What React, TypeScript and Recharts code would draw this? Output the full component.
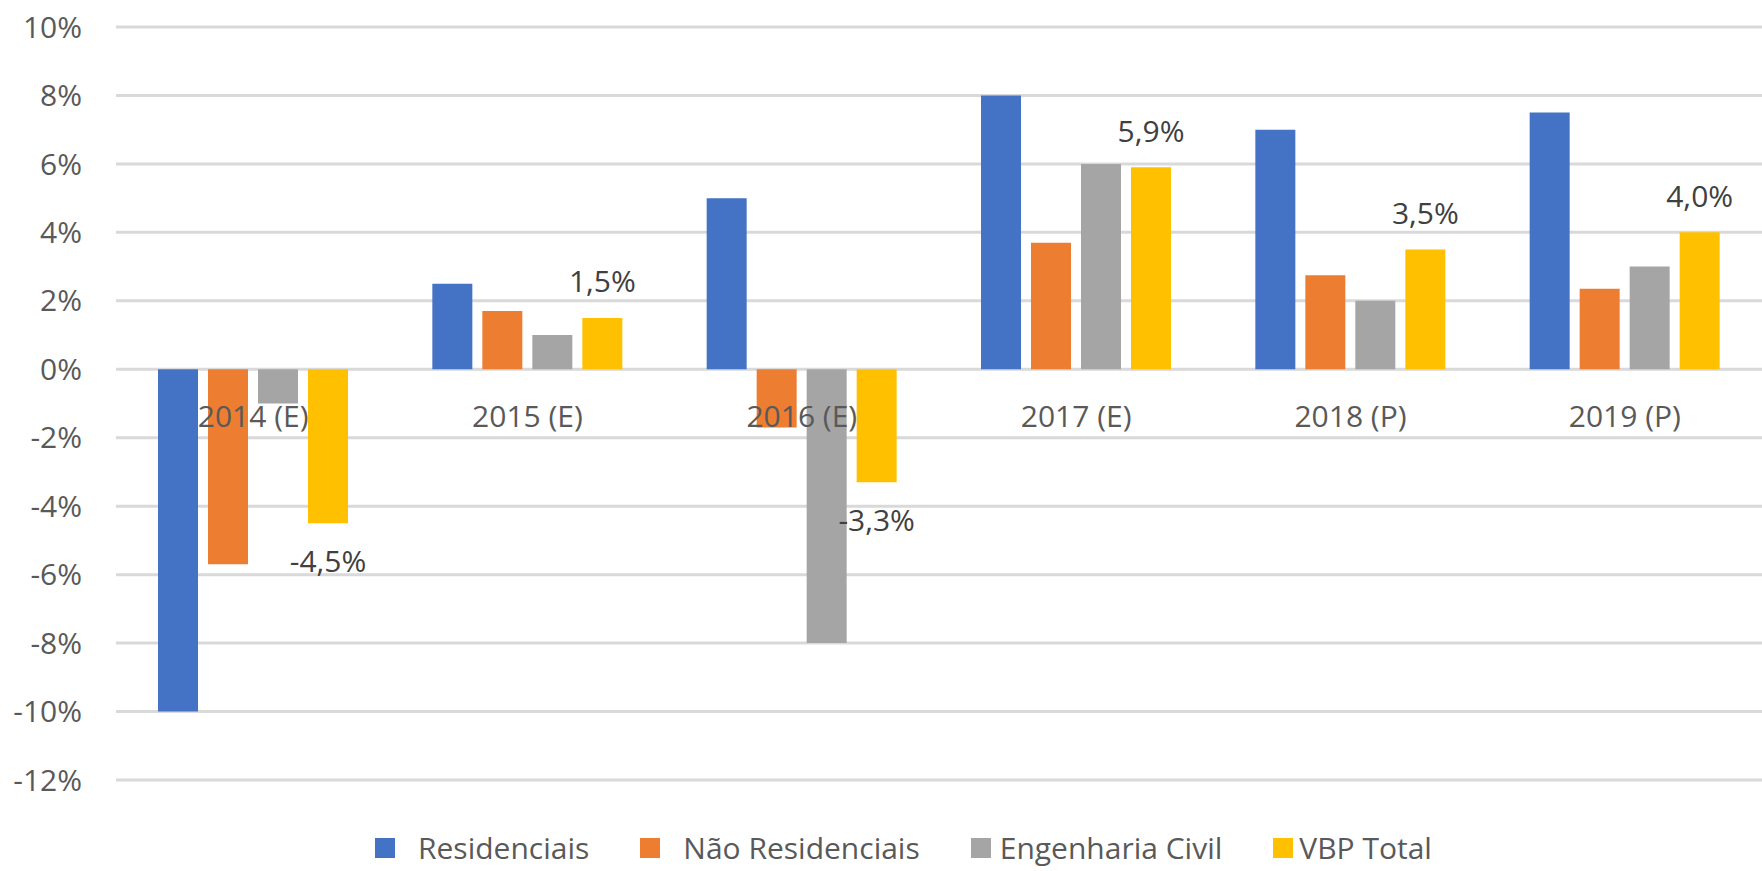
import { BarChart, Bar, XAxis, YAxis, CartesianGrid, LabelList } from 'recharts';

const CATEGORIES = ['2014 (E)', '2015 (E)', '2016 (E)', '2017 (E)', '2018 (P)', '2019 (P)'];
const RESIDENCIAIS = [-10, 2.5, 5, 8, 7, 7.5];
const NAO_RESIDENCIAIS = [-5.7, 1.7, -1.7, 3.7, 2.75, 2.35];
const ENGENHARIA_CIVIL = [-1, 1, -8, 6, 2, 3];
const VBP_TOTAL = [-4.5, 1.5, -3.3, 5.9, 3.5, 4.0];
const Y_TICKS = [-12, -10, -8, -6, -4, -2, 0, 2, 4, 6, 8, 10];

const SERIES = [
  { key: 'res', name: 'Residenciais', color: '#4472C4', gap: 23 },
  { key: 'nres', name: 'Não Residenciais', color: '#ED7D31', gap: 23 },
  { key: 'eng', name: 'Engenharia Civil', color: '#A5A5A5', gap: 9 },
  { key: 'vbp', name: 'VBP Total', color: '#FFC000', gap: 6 },
];

const W = 1762;
const H = 871;
const TOP = 27;
const BOTTOM = 91;
const Y_MIN = -12;
const Y_MAX = 10;
const PLOT_H = H - TOP - BOTTOM;
const ZERO_Y = TOP + (PLOT_H * Y_MAX) / (Y_MAX - Y_MIN);

const FONT = '"Open Sans", sans-serif';
const TEXT = '#595959';
const GRID = '#D9D9D9';

const rows = CATEGORIES.map((cat, i) => ({
  cat,
  res: RESIDENCIAIS[i],
  nres: NAO_RESIDENCIAIS[i],
  eng: ENGENHARIA_CIVIL[i],
  vbp: VBP_TOTAL[i],
}));

const pct = (v: number) => `${v.toFixed(1).replace('.', ',')}%`;

function CatTick({ x, payload }: any) {
  // category labels sit just under the zero line, not at the bottom
  return (
    <text x={x} y={ZERO_Y + 58} textAnchor="middle" fill={TEXT} fontSize={30} fontFamily={FONT}>
      {payload.value}
    </text>
  );
}

function VbpLabel({ x, y, width, height, value }: any) {
  const top = Math.min(y, y + height);
  const bottom = Math.max(y, y + height);
  const cy = value >= 0 ? top - 37 : bottom + 37;
  return (
    <text
      x={x + width / 2}
      y={cy}
      textAnchor="middle"
      dominantBaseline="central"
      fill="#404040"
      fontSize={30}
      fontFamily={FONT}
    >
      {pct(value)}
    </text>
  );
}

export default function App() {
  return (
    <div style={{ position: 'absolute', left: 0, top: 0, width: W, height: H, background: '#fff', overflow: 'hidden' }}>
      <BarChart
        width={W}
        height={H}
        data={rows}
        margin={{ top: TOP, right: 0, bottom: BOTTOM - 1, left: 0 }}
        barSize={40}
        barGap={10}
      >
        <CartesianGrid vertical={false} stroke={GRID} strokeWidth={3} />
        <YAxis
          domain={[Y_MIN, Y_MAX]}
          ticks={Y_TICKS}
          interval={0}
          width={116}
          axisLine={false}
          tickLine={false}
          tickMargin={28}
          tickFormatter={(v: number) => `${v}%`}
          tick={{ fill: TEXT, fontSize: 30, fontFamily: FONT }}
        />
        {SERIES.map((s) => (
          <Bar key={s.key} dataKey={s.key} name={s.name} fill={s.color} isAnimationActive={false}>
            {s.key === 'vbp' && <LabelList dataKey="vbp" content={<VbpLabel />} />}
          </Bar>
        ))}
        <XAxis
          dataKey="cat"
          height={1}
          axisLine={false}
          tickLine={false}
          interval={0}
          tick={<CatTick />}
        />
      </BarChart>
      <div
        style={{
          position: 'absolute',
          left: 375,
          top: 831,
          height: 34,
          display: 'flex',
          alignItems: 'center',
          fontFamily: FONT,
          fontSize: 30,
          lineHeight: '34px',
          color: TEXT,
          whiteSpace: 'nowrap',
        }}
      >
        {SERIES.map((s, i) => (
          <div key={s.key} style={{ display: 'flex', alignItems: 'center', marginLeft: i === 0 ? 0 : 51 }}>
            <span style={{ width: 20, height: 20, background: s.color, marginRight: s.gap }} />
            <span>{s.name}</span>
          </div>
        ))}
      </div>
    </div>
  );
}
